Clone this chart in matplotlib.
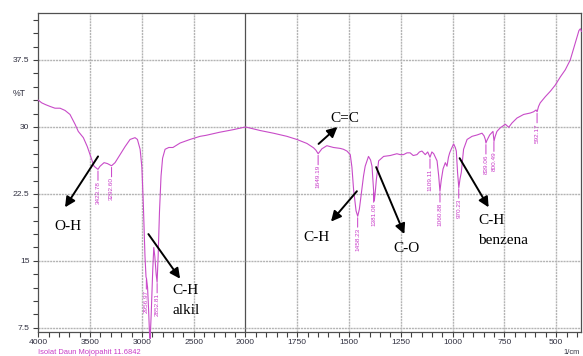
import numpy as np
import matplotlib
matplotlib.use('Agg')
import matplotlib.pyplot as plt

# FTIR spectrum (wavenumber in 1/cm, %T)
wavenumber = [4000, 3967, 3930, 3887, 3839, 3790, 3742, 3694, 3645, 3614,
              3565, 3527, 3494, 3462, 3424, 3404, 3365, 3333, 3293, 3259,
              3211, 3162, 3114, 3066, 3043, 3017, 3000, 2985, 2970, 2960,
              2955, 2945, 2935, 2925, 2920, 2910, 2895, 2885, 2875, 2862,
              2853, 2843, 2830, 2815, 2800, 2776, 2740, 2700, 2631, 2535,
              2438, 2381, 2252, 2116, 2000, 1929, 1865, 1800, 1752, 1703,
              1671, 1660, 1649, 1631, 1607, 1575, 1543, 1527, 1510, 1494,
              1486, 1478, 1466, 1458, 1450, 1442, 1430, 1422, 1406, 1396,
              1389, 1383, 1378, 1373, 1368, 1357, 1333, 1301, 1269, 1253,
              1237, 1220, 1205, 1190, 1172, 1160, 1148, 1140, 1132, 1120,
              1109, 1100, 1091, 1075, 1067, 1061, 1055, 1046, 1035, 1027,
              1020, 1014, 1005, 995, 987, 982, 976, 970, 964, 958,
              947, 930, 906, 882, 858, 848, 842, 839, 834, 821,
              805, 800, 795, 786, 770, 745, 729, 713, 689, 657,
              625, 609, 597, 592, 585, 577, 552, 528, 504, 480,
              456, 432, 408, 390, 383, 378]
transmittance = [33.0, 32.7, 32.5, 32.3, 32.1, 32.1, 31.85, 31.4, 30.3, 29.5,
                 28.8, 27.8, 26.7, 25.6, 25.25, 25.6, 26.0, 25.9, 25.65, 26.0,
                 26.9, 27.8, 28.6, 28.8, 28.6, 27.5, 25.5, 21.0, 15.5, 13.2,
                 13.0, 12.0, 9.5, 6.5, 6.3, 9.0, 14.0, 16.5, 15.5, 13.5,
                 12.6, 15.5, 20.5, 24.5, 26.5, 27.5, 27.7, 27.7, 28.2, 28.6,
                 28.95, 29.06, 29.4, 29.7, 30.0, 29.6, 29.3, 28.95, 28.6, 28.15,
                 27.66, 27.4, 27.0, 27.55, 27.9, 27.7, 27.6, 27.5, 27.3, 26.9,
                 25.5, 23.0, 20.6, 20.0, 20.8, 22.3, 24.5, 25.6, 26.7, 26.3,
                 25.6, 23.5, 21.7, 22.8, 24.1, 26.2, 26.7, 26.8, 27.0, 26.9,
                 26.9, 27.1, 27.1, 26.8, 26.9, 27.2, 27.3, 27.1, 26.9, 27.2,
                 26.6, 27.2, 27.0, 26.2, 24.5, 22.8, 24.0, 25.3, 26.0, 25.6,
                 26.6, 27.1, 27.6, 28.1, 27.7, 27.3, 24.9, 23.2, 24.2, 24.9,
                 27.5, 28.6, 28.95, 29.1, 29.3, 29.0, 28.6, 28.2, 28.5, 29.1,
                 29.5, 28.4, 28.9, 29.5, 29.9, 30.3, 29.96, 30.45, 31.0, 31.4,
                 31.56, 31.7, 31.9, 31.7, 32.3, 32.7, 33.4, 34.0, 34.7, 35.6,
                 36.4, 37.5, 39.4, 40.8, 41.0, 40.7]

peak_wn = [3423.78, 3292.60, 2956.97, 2852.81, 1649.19, 1458.23, 1381.08,
           1109.11, 1060.88, 970.23, 839.06, 800.49, 592.17]

x_major = [4000, 3500, 3000, 2500, 2000, 1750, 1500, 1250, 1000, 750, 500]
x_minor = list(range(3900, 2000, -100)) + list(range(1950, 379, -50))
y_major = [7.5, 15, 22.5, 30, 37.5]
y_minor = list(np.arange(7.5, 42.6, 1.5))

trace_col = '#c84bc8'
label_col = '#c83cc8'
tick_col = '#303040'
grid_col = '#b4b4b4'


# scale is doubled below 2000 1/cm, like the instrument printout
def fwd(w):
    w = np.asarray(w, dtype=float)
    return np.where(w >= 2000, w, 2 * w - 2000)


def inv(u):
    u = np.asarray(u, dtype=float)
    return np.where(u >= 2000, u, (u + 2000) / 2)


fig = plt.figure(figsize=(5.83, 3.56), dpi=100)
ax = fig.add_axes([0.0657, 0.0666, 0.9309, 0.8978])
ax.set_xscale('function', functions=(fwd, inv))
ax.set_xlim(4000, 380)
ax.set_ylim(7.0, 42.8)

ax.set_xticks(x_major)
ax.set_xticks(x_minor, minor=True)
ax.set_yticks(y_major)
ax.set_yticks(y_minor, minor=True)
ax.set_xticklabels([str(v) for v in x_major])
ax.set_yticklabels(['7.5', '15', '22.5', '30', '37.5'])
ax.tick_params(which='both', direction='out', length=3.3, width=0.8, color='#404040',
               labelsize=6.1, labelcolor=tick_col)
ax.tick_params(axis='x', pad=1.8)
ax.tick_params(axis='y', pad=3)
for lab in ax.get_xticklabels() + ax.get_yticklabels():
    lab.set_fontfamily('Liberation Sans')

for s in ax.spines.values():
    s.set_color('#505050')
    s.set_linewidth(0.9)

# grid
for v in x_major[1:]:
    if v == 2000:
        ax.axvline(v, color='#505050', lw=0.9, zorder=1)
    else:
        ax.axvline(v, color=grid_col, lw=1.0, ls=(0, (1.5, 0.6)), zorder=1)
for v in y_major:
    ax.axhline(v, color=grid_col, lw=1.0, ls=(0, (1.5, 0.6)), zorder=1)

ax.plot(wavenumber, transmittance, color=trace_col, lw=0.8, zorder=3, clip_on=False)

# peak labels
wn_asc = wavenumber[::-1]
t_asc = transmittance[::-1]
for wn in peak_wn:
    yv = np.interp(wn, wn_asc, t_asc)
    ax.annotate('', xy=(wn, yv), xytext=(0, -8), textcoords='offset points',
                arrowprops=dict(arrowstyle='-', color=label_col, lw=0.7,
                                shrinkA=0, shrinkB=1.2))
    ax.annotate(f'{wn:.2f}', xy=(wn, yv), xytext=(0, -8.3), textcoords='offset points',
                rotation=90, ha='center', va='top', fontsize=4.6, color=label_col,
                family='Liberation Sans')

# functional group arrows
arrow_kw = dict(arrowstyle='-|>,head_length=0.6,head_width=0.3', color='black',
                lw=1.4, mutation_scale=10, shrinkA=0, shrinkB=0)
arrows = [((3423, 26.7), (3742, 21.0)),
          ((2937, 18.0), (2631, 13.0)),
          ((1647, 28.1), (1556, 30.0)),
          ((1462, 22.8), (1587, 19.4)),
          ((1369, 25.5), (1233, 18.0)),
          ((966, 26.5), (826, 21.0))]
for tail, tip in arrows:
    ax.annotate('', xy=tip, xytext=tail, arrowprops=arrow_kw)

txt_kw = dict(fontsize=11, family='Liberation Serif', color='black', va='baseline')
ax.text(3718, 18.5, 'O-H', ha='center', **txt_kw)
ax.text(2708, 11.3, 'C-H', ha='left', **txt_kw)
ax.text(2708, 9.08, 'alkil', ha='left', **txt_kw)
ax.text(1518, 30.6, 'C=C', ha='center', **txt_kw)
ax.text(1659, 17.25, 'C-H', ha='center', **txt_kw)
ax.text(1222, 15.95, 'C-O', ha='center', **txt_kw)
ax.text(877, 19.1, 'C-H', ha='left', **txt_kw)
ax.text(877, 16.88, 'benzena', ha='left', **txt_kw)

ax.text(-0.023, 33.7, '%T', transform=ax.get_yaxis_transform(), ha='right', va='center',
        fontsize=6.3, color=tick_col, family='Liberation Sans')
fig.text(0.981, 0.001, '1/cm', ha='center', va='bottom', fontsize=5.4, color=tick_col,
         family='Liberation Sans')
fig.text(0.065, 0.001, 'Isolat Daun Mojopahit 11.6842', ha='left', va='bottom', fontsize=5.4,
         color=label_col, family='Liberation Sans')

fig.savefig('out.png', dpi=100)
